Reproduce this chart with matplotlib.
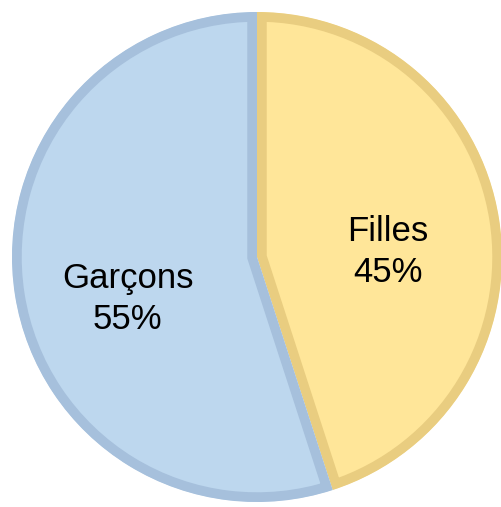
import matplotlib
matplotlib.use('Agg')
import matplotlib.pyplot as plt

labels = ['Filles', 'Garçons']
values = [45, 55]
fills = ['#FFE699', '#BDD7EE']
borders = ['#E9CD80', '#A6C0DC']

# label positions (pie units)
label_pos = [(0.535, 0.02), (-0.527, -0.17)]

fig = plt.figure(figsize=(5.01, 5.07), dpi=100)
ax = fig.add_axes([12 / 501, 5 / 507, 490 / 501, 490 / 507])

wedges, _ = ax.pie(values, startangle=90, counterclock=False,
                   colors=fills, radius=1)

# border drawn inside each slice only
for w, c in zip(wedges, borders):
    w.set_edgecolor(c)
    w.set_linewidth(14)
    w.set_clip_on(True)
    w.set_clip_path(w)

total = sum(values)
for (x, y), lab, v in zip(label_pos, labels, values):
    ax.text(x, y, f'{lab}\n{round(100 * v / total)}%', ha='center', va='center',
            fontsize=25, family='Liberation Sans', linespacing=1.3, color='black')

ax.set_xlim(-1, 1)
ax.set_ylim(-1, 1)
ax.set_aspect('equal')
ax.axis('off')

fig.savefig('out.png', dpi=100)
